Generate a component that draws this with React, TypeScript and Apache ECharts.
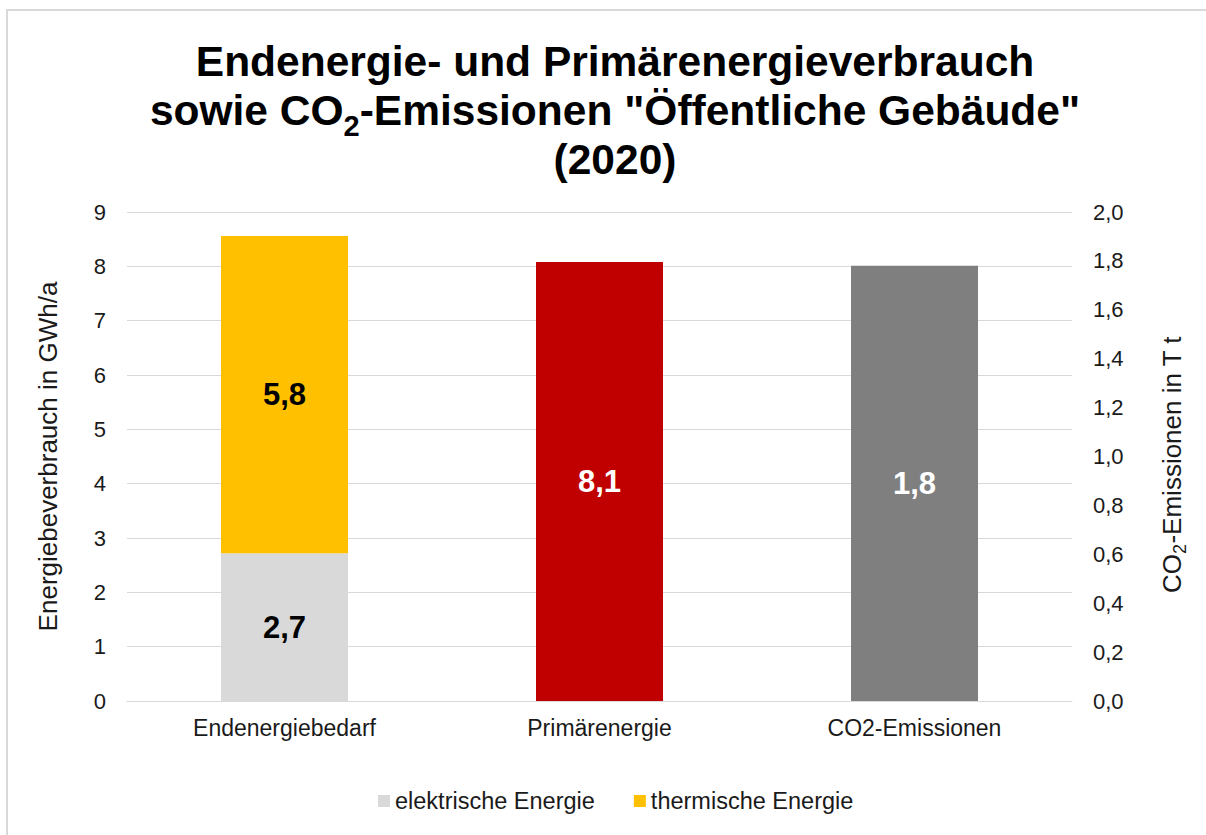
import React, { useEffect, useRef } from "react";
import * as echarts from "echarts";

const categories = ["Endenergiebedarf", "Primärenergie", "CO2-Emissionen"];
const elektrisch = [2.72, "-", "-"];
const thermisch = [5.84, "-", "-"];
const primaer = ["-", 8.08, "-"];
const co2 = ["-", "-", 1.78];
const legendNames = ["elektrische Energie", "thermische Energie"];

const FONT = "Liberation Sans, Arial, sans-serif";
const TXT = "#1a1a1a";

const fmt = (v: number) => v.toFixed(1).replace(".", ",");

export default function App() {
  const ref = useRef<HTMLDivElement>(null);
  useEffect(() => {
    if (!ref.current) return;
    const chart = echarts.init(ref.current, undefined, { renderer: "svg" });
    const label = (color: string) => ({
      show: true,
      position: "inside",
      color,
      fontFamily: FONT,
      fontSize: 31,
      fontWeight: "bold",
      formatter: (p: any) => fmt(Number(p.value)),
    });
    const titleStyle = {
      fontFamily: FONT,
      fontSize: 42.5,
      fontWeight: "bold",
      color: "#000",
      lineHeight: 49,
    };
    chart.setOption({
      animation: false,
      backgroundColor: "#fff",
      textStyle: { fontFamily: FONT },
      title: [
        { text: "Endenergie- und Primärenergieverbrauch", left: 615, textAlign: "center", top: 37, padding: 0, textStyle: titleStyle },
        {
          text: "sowie CO{s|2}-Emissionen \"Öffentliche Gebäude\"",
          left: 615,
          textAlign: "center",
          top: 86,
          padding: 0,
          textStyle: {
            ...titleStyle,
            rich: {
              s: { fontFamily: FONT, fontSize: 29, fontWeight: "bold", color: "#000", lineHeight: 19, padding: [30, 0, 0, 0] },
            },
          },
        },
        { text: "(2020)", left: 615, textAlign: "center", top: 135, padding: 0, textStyle: titleStyle },
      ],
      graphic: [
        {
          type: "rect",
          shape: { x: 7, y: 10, width: 1250, height: 900 },
          style: { fill: "none", stroke: "#d9d9d9", lineWidth: 2 },
          silent: true,
        },
      ],
      legend: {
        data: legendNames,
        bottom: 17,
        left: 373,
        itemWidth: 12,
        itemHeight: 12,
        itemGap: 39,
        icon: "rect",
        textStyle: { fontFamily: FONT, fontSize: 23.5, color: TXT },
      },
      grid: { left: 127, right: 134, top: 212, bottom: 134 },
      xAxis: {
        type: "category",
        data: categories,
        axisLine: { lineStyle: { color: "#d9d9d9", width: 1 } },
        axisTick: { show: false },
        axisLabel: { fontFamily: FONT, fontSize: 23, color: TXT, margin: 15 },
      },
      yAxis: [
        {
          type: "value",
          min: 0,
          max: 9,
          interval: 1,
          name: "Energiebeverbrauch in GWh/a",
          nameLocation: "middle",
          nameGap: 66,
          nameTextStyle: { fontFamily: FONT, fontSize: 26, color: TXT },
          axisLabel: { fontFamily: FONT, fontSize: 22, color: TXT, margin: 21 },
          splitLine: { lineStyle: { color: "#d9d9d9", width: 1 } },
          axisLine: { show: false },
          axisTick: { show: false },
        },
        {
          type: "value",
          min: 0,
          max: 2,
          interval: 0.2,
          position: "right",
          name: "CO{s|2}-Emissionen in T t",
          nameLocation: "middle",
          nameGap: 84,
          nameRotate: 90,
          nameTextStyle: {
            fontFamily: FONT,
            fontSize: 26,
            color: TXT,
            lineHeight: 31,
            padding: [0, 16, 0, 0],
            rich: {
              s: { fontFamily: FONT, fontSize: 18, color: TXT, lineHeight: 15, padding: [16, 0, 0, 0] },
            },
          },
          axisLabel: { fontFamily: FONT, fontSize: 22, color: TXT, margin: 21, formatter: (v: number) => fmt(v) },
          splitLine: { show: false },
          axisLine: { show: false },
          axisTick: { show: false },
        },
      ],
      series: [
        {
          name: legendNames[0],
          type: "bar",
          stack: "e",
          yAxisIndex: 0,
          barWidth: 127,
          data: elektrisch,
          itemStyle: { color: "#d9d9d9" },
          label: label("#000"),
        },
        {
          name: legendNames[1],
          type: "bar",
          stack: "e",
          yAxisIndex: 0,
          barWidth: 127,
          data: thermisch,
          itemStyle: { color: "#ffc000" },
          label: label("#000"),
        },
        {
          name: "Primärenergie",
          type: "bar",
          stack: "e",
          yAxisIndex: 0,
          barWidth: 127,
          data: primaer,
          itemStyle: { color: "#c00000" },
          label: label("#fff"),
        },
        {
          name: "CO2-Emissionen",
          type: "bar",
          yAxisIndex: 1,
          barWidth: 127,
          barGap: "-100%",
          data: co2,
          itemStyle: { color: "#7f7f7f" },
          label: label("#fff"),
        },
      ],
    });
    return () => chart.dispose();
  }, []);
  return (
    <div
      ref={ref}
      style={{ position: "absolute", left: 0, top: 0, width: 1206, height: 835 }}
    />
  );
}
